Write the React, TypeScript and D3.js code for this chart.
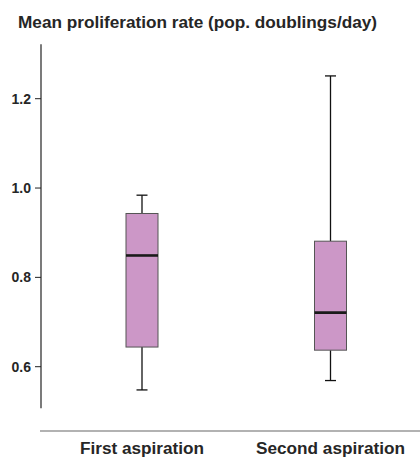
import React from "react";
import * as d3 from "d3";

const categories = ["First aspiration", "Second aspiration"];
const whiskerLow = [0.548, 0.569];
const q1 = [0.644, 0.637];
const median = [0.849, 0.721];
const q3 = [0.943, 0.881];
const whiskerHigh = [0.984, 1.251];
const yTicks = [0.6, 0.8, 1.0, 1.2];
const title = "Mean proliferation rate (pop. doublings/day)";

const W = 420;
const H = 457;

export default function App() {
  const y = d3.scaleLinear().domain([0.6, 1.2]).range([366.7, 98.7]);
  const x = d3.scalePoint<string>().domain(categories).range([142, 330.5]);
  const boxW = 32;
  const capW = 11;
  const font = "'Liberation Sans', Arial, Helvetica, sans-serif";
  const axisTop = y(1.322);
  const axisBottom = y(0.507);

  return (
    <svg
      width={W}
      height={H}
      style={{ position: "absolute", left: 0, top: 0 }}
      fontFamily={font}
    >
      <rect width={W} height={H} fill="#fff" />
      <text x={18} y={28.3} fontSize={17.2} fontWeight="bold" fill="#262626">
        {title}
      </text>
      {/* y axis */}
      <line x1={41} x2={41} y1={axisTop} y2={axisBottom} stroke="#222" strokeWidth={1.2} />
      {yTicks.map((t) => (
        <g key={t}>
          <line x1={35} x2={41} y1={y(t)} y2={y(t)} stroke="#222" strokeWidth={1} />
          <text
            x={31}
            y={y(t)}
            dy="0.36em"
            textAnchor="end"
            fontSize={14}
            fontWeight="bold"
            fill="#262626"
          >
            {d3.format(".1f")(t)}
          </text>
        </g>
      ))}
      {/* x axis */}
      <line x1={40} x2={420} y1={431} y2={431} stroke="#666" strokeWidth={1.2} />
      {categories.map((c) => (
        <text
          key={c}
          x={x(c)}
          y={453.5}
          textAnchor="middle"
          fontSize={17.2}
          fontWeight="bold"
          fill="#262626"
        >
          {c}
        </text>
      ))}
      {/* boxes */}
      {categories.map((c, i) => {
        const cx = x(c)!;
        return (
          <g key={c}>
            <line x1={cx} x2={cx} y1={y(whiskerHigh[i])} y2={y(q3[i])} stroke="#111" strokeWidth={1.3} />
            <line x1={cx} x2={cx} y1={y(q1[i])} y2={y(whiskerLow[i])} stroke="#111" strokeWidth={1.3} />
            <line x1={cx - capW / 2} x2={cx + capW / 2} y1={y(whiskerHigh[i])} y2={y(whiskerHigh[i])} stroke="#111" strokeWidth={1.3} />
            <line x1={cx - capW / 2} x2={cx + capW / 2} y1={y(whiskerLow[i])} y2={y(whiskerLow[i])} stroke="#111" strokeWidth={1.3} />
            <rect
              x={cx - boxW / 2}
              y={y(q3[i])}
              width={boxW}
              height={y(q1[i]) - y(q3[i])}
              fill="#cc97c7"
              stroke="#555"
              strokeWidth={1}
            />
            <line x1={cx - boxW / 2} x2={cx + boxW / 2} y1={y(median[i])} y2={y(median[i])} stroke="#1a1a1a" strokeWidth={2.6} />
          </g>
        );
      })}
    </svg>
  );
}
